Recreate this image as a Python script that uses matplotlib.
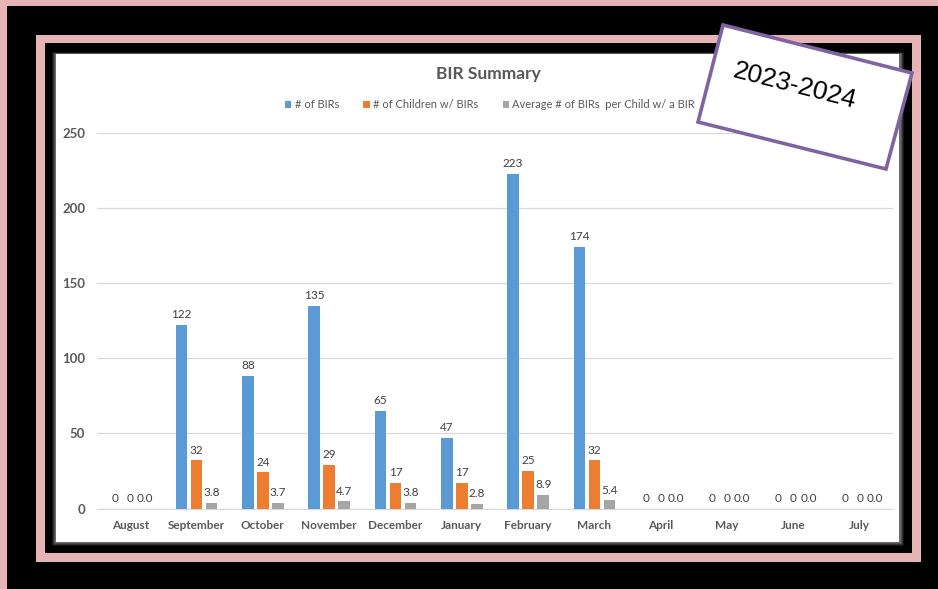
import matplotlib
matplotlib.use("Agg")
import matplotlib.pyplot as plt
from matplotlib.patches import Rectangle, Polygon
import numpy as np

months = ["August", "September", "October", "November", "December", "January",
          "February", "March", "April", "May", "June", "July"]
birs = [0, 122, 88, 135, 65, 47, 223, 174, 0, 0, 0, 0]
children = [0, 32, 24, 29, 17, 17, 25, 32, 0, 0, 0, 0]
average = [0.0, 3.8, 3.7, 4.7, 3.8, 2.8, 8.9, 5.4, 0.0, 0.0, 0.0, 0.0]
series_names = ["# of BIRs", "# of Children w/ BIRs", "Average # of BIRs  per Child w/ a BIR"]
yticks = [0, 50, 100, 150, 200, 250]
season = "2023-2024"

W, H = 938, 589
fig = plt.figure(figsize=(W / 100, H / 100), dpi=100)
fig.patch.set_facecolor("black")

PINK = "#e6b4b4"
BLUE = "#5b9bd5"
ORANGE = "#ed7d31"
GRAY = "#a5a5a5"
TXT = "#595959"

# background frame (pixel coordinates)
bg = fig.add_axes([0, 0, 1, 1], zorder=0)
bg.set_xlim(0, W)
bg.set_ylim(H, 0)
bg.axis("off")
bg.add_patch(Rectangle((0, 0), W, H, facecolor="black", edgecolor="none"))
# outer pink
bg.add_patch(Rectangle((0, 0), W, 6, facecolor=PINK, edgecolor="none"))
bg.add_patch(Rectangle((0, 0), 7, H, facecolor=PINK, edgecolor="none"))
# inner pink frame
bg.add_patch(Rectangle((36, 35), 885, 527, facecolor=PINK, edgecolor="none"))
bg.add_patch(Rectangle((45, 43), 867, 510, facecolor="black", edgecolor="none"))
# shadow
for i, a in enumerate([0.15, 0.25, 0.35, 0.5]):
    d = 4 - i
    bg.add_patch(Rectangle((56 - d, 54 - d * 0.5), 844 + 2 * d, 488 + 1.5 * d,
                           facecolor="#888888", edgecolor="none", alpha=a))
bg.add_patch(Rectangle((56, 54), 843, 488, facecolor="white", edgecolor="none"))

# chart axes
left_px, right_px, bot_px, top_px = 97, 893, 508.5, 133
ax = fig.add_axes([left_px / W, (H - bot_px) / H, (right_px - left_px) / W,
                   (bot_px - top_px) / H], zorder=1)
ax.patch.set_alpha(0)
x = np.arange(len(months))
bw = 0.175
off = 0.226
font = "Lato"
for vals, color, dx, fmt, name in [(birs, BLUE, -off, "{:d}", series_names[0]),
                                   (children, ORANGE, 0, "{:d}", series_names[1]),
                                   (average, GRAY, off, "{:.1f}", series_names[2])]:
    ax.bar(x + dx, vals, width=bw, color=color, label=name, zorder=3)
    for xi, v in zip(x + dx, vals):
        ax.annotate(fmt.format(v), (xi, v), xytext=(0, 3.5), textcoords="offset points",
                    ha="center", va="bottom", fontsize=8.5, color="#404040",
                    family=font)

ax.set_xlim(-0.5, len(months) - 0.5)
ax.set_ylim(0, 250)
ax.set_yticks(yticks)
ax.set_yticklabels([str(t) for t in yticks], fontsize=9.5, color=TXT,
                   fontweight="bold", family=font)
ax.set_xticks(x)
ax.set_xticklabels(months, fontsize=8.5, color=TXT, fontweight="bold", family=font)
ax.tick_params(axis="both", length=0)
ax.tick_params(axis="y", pad=8.5)
ax.tick_params(axis="x", pad=8)
ax.grid(axis="y", color="#d9d9d9", linewidth=0.9, zorder=0)
for s in ["top", "right", "left"]:
    ax.spines[s].set_visible(False)
ax.spines["bottom"].set_color("#d9d9d9")

fig.text(488 / W, 1 - 74 / H, "BIR Summary", ha="center", va="center",
         fontsize=12.5, fontweight="bold", color=TXT, family=font)
leg = fig.legend(loc="center", bbox_to_anchor=(490 / W, 1 - 105 / H), ncol=3,
                 frameon=False, handlelength=0.55, handleheight=0.55,
                 handletextpad=0.3, columnspacing=2.2, prop={"family": font, "size": 8})
for t in leg.get_texts():
    t.set_color(TXT)

# overlay label box
fg = fig.add_axes([0, 0, 1, 1], zorder=2)
fg.set_xlim(0, W)
fg.set_ylim(H, 0)
fg.axis("off")
corners = [(723, 25), (912, 73), (886, 169), (698, 122)]
fg.add_patch(Polygon(corners, closed=True, facecolor="white", edgecolor="#8064a2",
                     linewidth=2.6, joinstyle="miter"))
fg.text(795, 86, season, rotation=-14.3, rotation_mode="anchor", ha="center",
        va="center", fontsize=19, color="black", family="Liberation Sans")

fig.savefig("out.png", dpi=100, facecolor=fig.get_facecolor())
